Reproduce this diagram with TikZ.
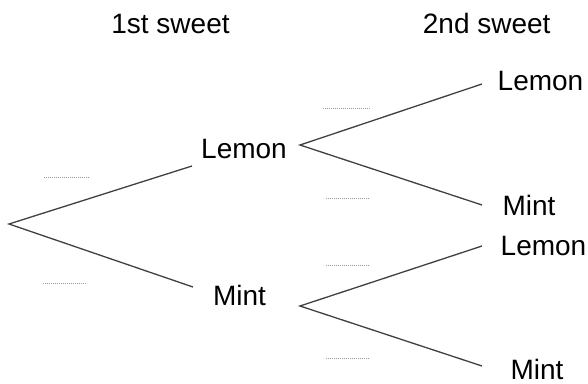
\documentclass[tikz,border=0pt]{standalone}
\usepackage{fontspec}
\setmainfont{Liberation Sans}
\usepackage{tikz}

\tikzset{
  branch/.style={draw=black!75, line width=1.3pt},
  gap/.style={draw=gray!80, line width=0.7pt, dash pattern=on 0.8pt off 1.2pt},
  label/.style={font=\fontsize{28}{31}\selectfont, inner sep=0pt},
  head/.style={font=\fontsize{28}{31}\selectfont, inner sep=0pt}
}

\begin{document}
\begin{tikzpicture}[x=1pt,y=-1pt]
\useasboundingbox (0,0) rectangle (588,383);
%% headings
\node[head] (h1) at (170.5,24) {1st sweet};
\node[head] (h2) at (486.7,23.5) {2nd sweet};
%% points of the tree
\coordinate (root) at (9,224);
\coordinate (e1) at (192,166);
\coordinate (e2) at (193,287);
\coordinate (fL) at (300,145);
\coordinate (fM) at (300,306);
\coordinate (eLL) at (482,84);
\coordinate (eLM) at (482,205);
\coordinate (eML) at (482,246);
\coordinate (eMM) at (482,366);
%% labels
\node[label] (lemon1) at (244,149) {Lemon};
\node[label] (mint1) at (239.5,295) {Mint};
\node[label] (lemonLL) at (540.5,81) {Lemon};
\node[label] (mintLM) at (529,205) {Mint};
\node[label] (lemonML) at (543.5,246) {Lemon};
\node[label] (mintMM) at (537,369) {Mint};
%% branches
\draw[branch] (e1) -- (root) -- (e2);
\draw[branch] (eLL) -- (fL) -- (eLM);
\draw[branch] (eML) -- (fM) -- (eMM);
%% spaces for the probabilities
\draw[gap] (44,177) -- (90,177);
\draw[gap] (43,283) -- (87,283);
\draw[gap] (323,108) -- (370,108);
\draw[gap] (326,198) -- (370,198);
\draw[gap] (326,265) -- (370,265);
\draw[gap] (326,358) -- (370,358);
\end{tikzpicture}
\end{document}
